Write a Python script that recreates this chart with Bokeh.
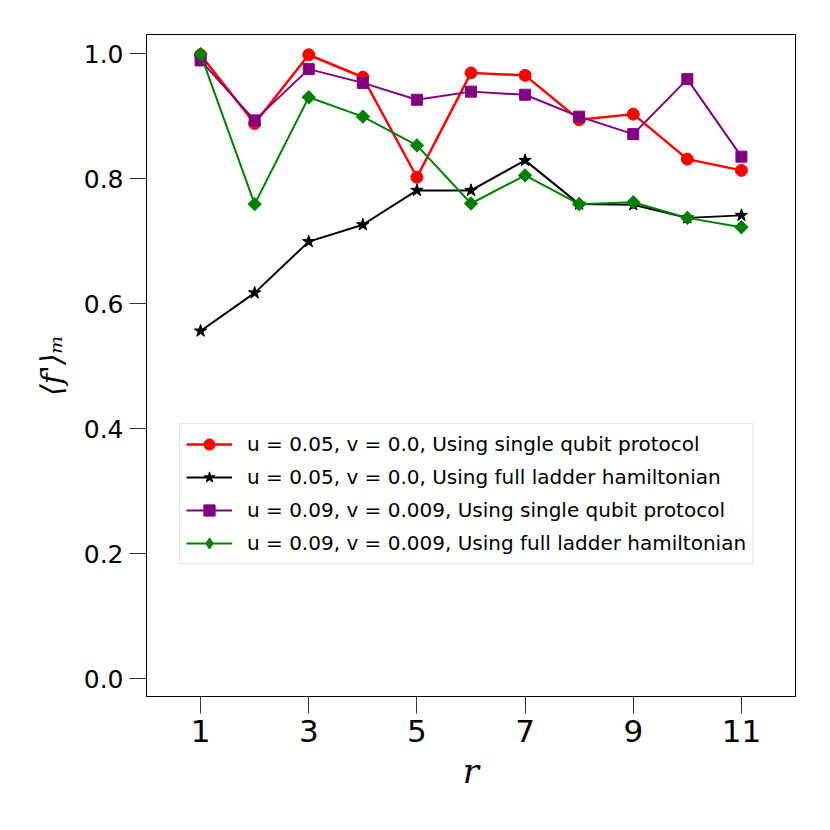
import math
from bokeh.plotting import figure
from bokeh.models import Range1d, Legend, LegendItem, FixedTicker, CustomJSTickFormatter
from bokeh.embed import file_html
from bokeh.resources import INLINE

r = [1, 2, 3, 4, 5, 6, 7, 8, 9, 10, 11]
red_single_005 = [0.998, 0.888, 0.998, 0.962, 0.802, 0.969, 0.965, 0.894, 0.903, 0.831, 0.813]
black_full_005 = [0.556, 0.617, 0.699, 0.726, 0.781, 0.781, 0.829, 0.759, 0.758, 0.737, 0.741]
purple_single_009 = [0.989, 0.893, 0.975, 0.953, 0.926, 0.939, 0.934, 0.899, 0.871, 0.959, 0.835]
green_full_009 = [0.999, 0.759, 0.930, 0.899, 0.853, 0.760, 0.805, 0.759, 0.762, 0.737, 0.722]

labels = [
    "u = 0.05, v = 0.0, Using single qubit protocol",
    "u = 0.05, v = 0.0, Using full ladder hamiltonian",
    "u = 0.09, v = 0.009, Using single qubit protocol",
    "u = 0.09, v = 0.009, Using full ladder hamiltonian",
]
x_ticks = [1, 3, 5, 7, 9, 11]
y_ticks = [0.0, 0.2, 0.4, 0.6, 0.8, 1.0]

p = figure(width=810, height=810, output_backend="svg", toolbar_location=None,
           x_range=Range1d(0, 12), y_range=Range1d(-0.0288, 1.0304),
           min_border_left=146, min_border_top=34, min_border_right=15, min_border_bottom=114)
p.grid.visible = False
p.outline_line_color = "black"
p.outline_line_width = 1

for ax in (p.xaxis, p.yaxis):
    ax.major_tick_out = 17
    ax.major_tick_in = 0
    ax.major_tick_line_width = 1
    ax.minor_tick_line_color = None
    ax.axis_line_color = "black"
    ax.major_tick_line_color = "#333333"
    ax.major_label_text_color = "black"
    ax.major_label_text_font = "DejaVu Sans"
    ax.axis_label_text_color = "black"
    ax.major_label_standoff = 6

p.xaxis.ticker = FixedTicker(ticks=x_ticks)
p.yaxis.ticker = FixedTicker(ticks=y_ticks)
p.xaxis.major_label_text_font_size = "31px"
p.yaxis.major_label_text_font_size = "25px"
p.yaxis.formatter = CustomJSTickFormatter(code="return tick.toFixed(1);")

p.xaxis.axis_label = "r"
p.yaxis.axis_label = "⟨f'⟩ₘ"
p.xaxis.axis_label_text_font = "DejaVu Serif"
p.yaxis.axis_label_text_font = "DejaVu Serif"
p.xaxis.axis_label_text_font_style = "italic"
p.yaxis.axis_label_text_font_style = "italic"
p.xaxis.axis_label_text_font_size = "34px"
p.yaxis.axis_label_text_font_size = "30px"
p.xaxis.axis_label_standoff = 6
p.yaxis.axis_label_standoff = 12

items = []
l1 = p.line(r, red_single_005, line_color="red", line_width=2.5)
m1 = p.scatter(r, red_single_005, marker="circle", size=12, fill_color="red", line_color="red")
items.append(LegendItem(label=labels[0], renderers=[l1, m1]))

l2 = p.line(r, black_full_005, line_color="black", line_width=2)
m2 = p.scatter(r, black_full_005, marker="star", size=13, fill_color="black", line_color="black")
items.append(LegendItem(label=labels[1], renderers=[l2, m2]))

l3 = p.line(r, purple_single_009, line_color="purple", line_width=2)
m3 = p.scatter(r, purple_single_009, marker="square", size=11, fill_color="purple", line_color="purple")
items.append(LegendItem(label=labels[2], renderers=[l3, m3]))

l4 = p.line(r, green_full_009, line_color="green", line_width=2)
# diamond used for the legend swatch; hidden under the rotated squares in the plot
m4_key = p.scatter(r, green_full_009, marker="diamond", size=11, fill_color="green", line_color="green")
m4 = p.scatter(r, green_full_009, marker="square", angle=math.pi / 4, size=9.5,
               fill_color="green", line_color="green")
items.append(LegendItem(label=labels[3], renderers=[l4, m4_key]))

legend = Legend(items=items, location=(33, 132))
legend.label_text_font = "DejaVu Sans"
legend.label_text_font_size = "20px"
legend.label_text_color = "black"
legend.label_standoff = 15
legend.glyph_width = 46
legend.glyph_height = 28
legend.label_height = 28
legend.spacing = 5
legend.padding = 6
legend.margin = 0
legend.border_line_color = "#cccccc"
legend.border_line_width = 1
legend.background_fill_alpha = 0.8
p.add_layout(legend)

open("out.html", "w").write(file_html(p, INLINE))
